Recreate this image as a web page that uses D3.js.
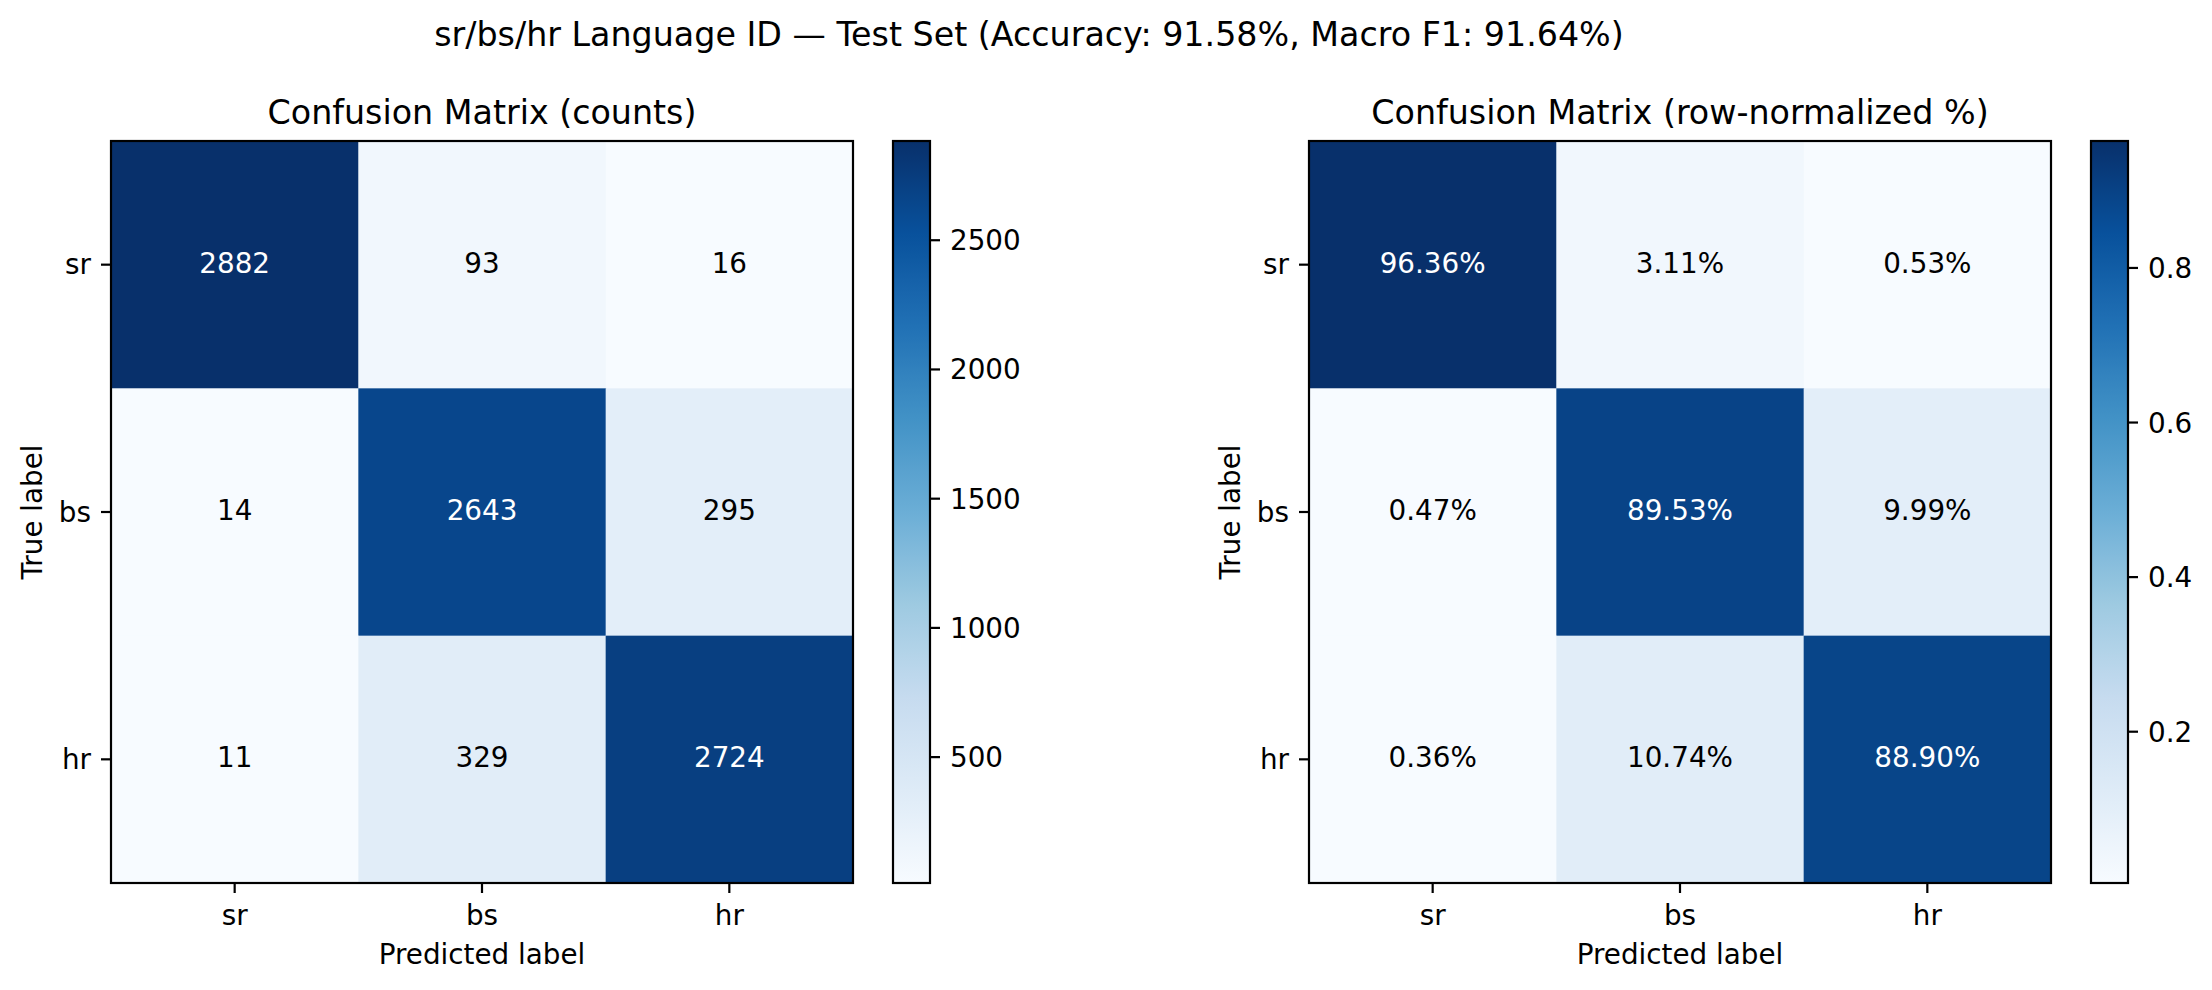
<!DOCTYPE html>
<html>
<head>
<meta charset="utf-8">
<script src="https://cdn.jsdelivr.net/npm/d3@7"></script>
<style>
  body { margin: 0; background: #fff; }
  text { font-family: "DejaVu Sans", sans-serif; fill: #000; }
</style>
</head>
<body>
<script>
// sr/bs/hr language ID confusion matrices

// Data
var labels      = ["sr", "bs", "hr"];
var counts      = [[2882, 93, 16],
                   [14, 2643, 295],
                   [11, 329, 2724]];
var percents    = [[96.36, 3.11, 0.53],
                   [0.47, 89.53, 9.99],
                   [0.36, 10.74, 88.90]];
var count_ticks = [500, 1000, 1500, 2000, 2500];
var pct_ticks   = [0.2, 0.4, 0.6, 0.8];

var suptitle    = "sr/bs/hr Language ID \u2014 Test Set (Accuracy: 91.58%, Macro F1: 91.64%)";
var titles      = ["Confusion Matrix (counts)", "Confusion Matrix (row-normalized %)"];

// matplotlib "Blues"
var blues = ["#f7fbff", "#deebf7", "#c6dbef", "#9ecae1", "#6baed6",
             "#4292c6", "#2171b5", "#08519c", "#08306b"];

// Layout
var W = 2212, H = 990;
var size = 742;          // square axes
var top_y = 141;
var cb_gap = 40, cb_w = 37;
var tick_len = 10, tick_pad = 10;
var fs_tick = 27.8, fs_title = 33.3;
var lw = 2.2;

var svg = d3.select("body").append("svg")
    .attr("width", W)
    .attr("height", H);

svg.append("text")
    .attr("x", 1029)
    .attr("y", 46)
    .attr("text-anchor", "middle")
    .style("font-size", fs_title + "px")
    .text(suptitle);

function draw_matrix(x0, values, title, fmt, cb_ticks, cb_fmt) {
    var flat = [];
    values.forEach(function (row, i) {
        row.forEach(function (v, j) {
            flat.push({ i: i, j: j, v: v });
        });
    });
    var vmin = d3.min(flat, function (d) { return d.v; });
    var vmax = d3.max(flat, function (d) { return d.v; });
    var thresh = (vmin + vmax) / 2;

    var color = d3.scaleLinear()
        .domain(blues.map(function (c, k) { return vmin + k * (vmax - vmin) / (blues.length - 1); }))
        .range(blues)
        .interpolate(d3.interpolateRgb);

    var x = d3.scaleBand().domain(labels).range([x0, x0 + size]);
    var y = d3.scaleBand().domain(labels).range([top_y, top_y + size]);

    var g = svg.append("g");

    // cells
    g.selectAll("rect.cell")
        .data(flat)
        .enter()
        .append("rect")
        .attr("class", "cell")
        .attr("x", function (d) { return x(labels[d.j]); })
        .attr("y", function (d) { return y(labels[d.i]); })
        .attr("width", x.bandwidth() + 0.5)
        .attr("height", y.bandwidth() + 0.5)
        .attr("fill", function (d) { return color(d.v); });

    // cell text
    g.selectAll("text.val")
        .data(flat)
        .enter()
        .append("text")
        .attr("class", "val")
        .attr("x", function (d) { return x(labels[d.j]) + x.bandwidth() / 2; })
        .attr("y", function (d) { return y(labels[d.i]) + y.bandwidth() / 2; })
        .attr("dy", "0.29em")
        .attr("text-anchor", "middle")
        .style("font-size", fs_tick + "px")
        .style("fill", function (d) { return d.v > thresh ? "#fff" : "#000"; })
        .text(function (d) { return fmt(d.v); });

    // frame
    g.append("rect")
        .attr("x", x0)
        .attr("y", top_y)
        .attr("width", size)
        .attr("height", size)
        .attr("fill", "none")
        .attr("stroke", "#000")
        .attr("stroke-width", lw);

    // axes
    var xa = g.append("g")
        .attr("transform", "translate(0," + (top_y + size) + ")")
        .call(d3.axisBottom(x).tickSize(tick_len).tickPadding(tick_pad).tickSizeOuter(0));
    var ya = g.append("g")
        .attr("transform", "translate(" + x0 + ",0)")
        .call(d3.axisLeft(y).tickSize(tick_len).tickPadding(tick_pad).tickSizeOuter(0));
    [xa, ya].forEach(function (a) {
        a.select(".domain").remove();
        a.selectAll(".tick line").attr("stroke", "#000").attr("stroke-width", lw);
        a.selectAll(".tick text")
            .style("font-size", fs_tick + "px")
            .style("font-family", "DejaVu Sans")
            .attr("fill", "#000");
    });
    xa.selectAll(".tick text").attr("dy", null).attr("y", 42);
    ya.selectAll(".tick text").attr("dy", "0.35em");

    g.append("text")
        .attr("x", x0 + size / 2)
        .attr("y", 964)
        .attr("text-anchor", "middle")
        .style("font-size", fs_tick + "px")
        .text("Predicted label");

    g.append("text")
        .attr("transform", "translate(" + (x0 - 69.3) + "," + (top_y + size / 2) + ") rotate(-90)")
        .attr("text-anchor", "middle")
        .style("font-size", fs_tick + "px")
        .text("True label");

    g.append("text")
        .attr("x", x0 + size / 2)
        .attr("y", 124)
        .attr("text-anchor", "middle")
        .style("font-size", fs_title + "px")
        .text(title);

    // colorbar
    var cx = x0 + size + cb_gap;
    var cy = d3.scaleLinear().domain([vmin, vmax]).range([top_y + size, top_y]);
    var grad_id = "grad" + x0;
    var grad = svg.append("defs").append("linearGradient")
        .attr("id", grad_id)
        .attr("x1", 0).attr("y1", 1)
        .attr("x2", 0).attr("y2", 0);
    grad.selectAll("stop")
        .data(d3.range(0, 1.0001, 1 / 32))
        .enter()
        .append("stop")
        .attr("offset", function (t) { return t; })
        .attr("stop-color", function (t) { return color(vmin + t * (vmax - vmin)); });

    g.append("rect")
        .attr("x", cx)
        .attr("y", top_y)
        .attr("width", cb_w)
        .attr("height", size)
        .attr("fill", "url(#" + grad_id + ")")
        .attr("stroke", "#000")
        .attr("stroke-width", lw);

    var ca = g.append("g")
        .attr("transform", "translate(" + (cx + cb_w) + ",0)")
        .call(d3.axisRight(cy).tickValues(cb_ticks).tickFormat(cb_fmt)
            .tickSize(tick_len).tickPadding(tick_pad).tickSizeOuter(0));
    ca.select(".domain").remove();
    ca.selectAll(".tick line").attr("stroke", "#000").attr("stroke-width", lw);
    ca.selectAll(".tick text")
        .style("font-size", fs_tick + "px")
        .style("font-family", "DejaVu Sans")
        .attr("fill", "#000")
        .attr("dy", "0.36em");
}

draw_matrix(111, counts, titles[0],
    function (v) { return String(v); },
    count_ticks, function (v) { return String(v); });

draw_matrix(1309, percents.map(function (r) { return r.map(function (v) { return v / 100; }); }), titles[1],
    function (v) { return (v * 100).toFixed(2) + "%"; },
    pct_ticks, function (v) { return String(v); });
</script>
</body>
</html>
